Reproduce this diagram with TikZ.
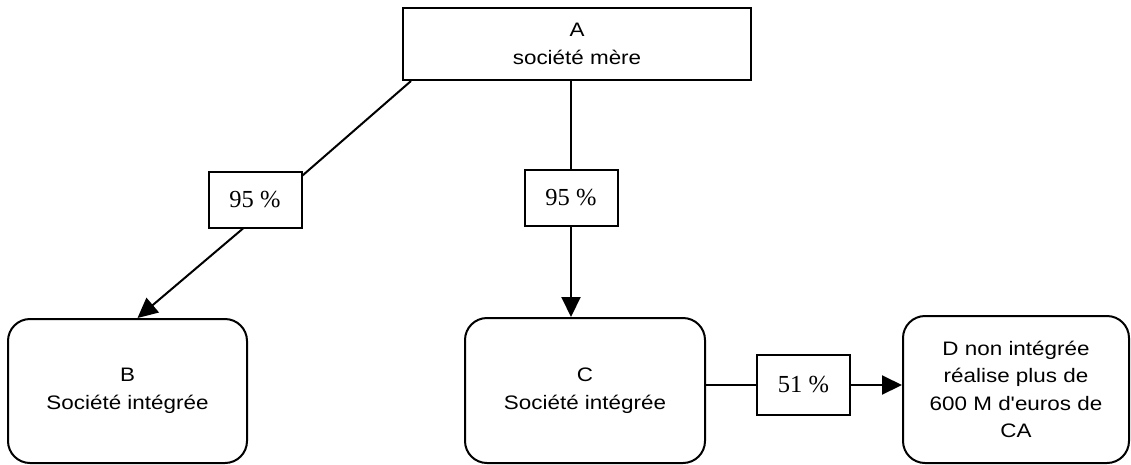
\documentclass[tikz,border=0pt]{standalone}
\usepackage{fontspec}
\setmainfont{Liberation Serif}
\newfontfamily\arialfont[FakeStretch=1.15]{Liberation Sans}
\usetikzlibrary{positioning,arrows.meta,calc}

\begin{document}
\begin{tikzpicture}[x=1pt,y=-1pt,line width=2pt,
    mainbox/.style={draw,rectangle,align=center,inner sep=0pt,
        font=\arialfont\fontsize{19.5}{27.5}\selectfont},
    roundbox/.style={mainbox,rounded corners=22pt},
    pctbox/.style={draw,rectangle,inner sep=0pt,minimum width=93pt,
        minimum height=56pt,font=\fontsize{24.5}{28}\selectfont},
    arr/.style={-{Triangle[length=20pt,width=19pt]}}]
    \useasboundingbox (0,0) rectangle (1131,464);

    % Companies
    \node[mainbox,minimum width=348pt,minimum height=72pt] (A) at (577,44) {A\\société mère};
    \node[roundbox,minimum width=239pt,minimum height=144pt] (B) at (127.5,391) {B\\Société intégrée};
    \node[roundbox,minimum width=240pt,minimum height=145pt] (C) at (585,390.5) {C\\Société intégrée};
    \node[roundbox,minimum width=226pt,minimum height=147pt] (D) at (1016,389.5)
        {D non intégrée\\réalise plus de\\600 M d'euros de\\CA};

    % Shares held
    \node[pctbox] (p1) at (255,199.5) {95 \%};
    \node[pctbox] (p2) at (571,198) {95 \%};
    \node[pctbox,minimum height=60pt] (p3) at (803.5,385) {51 \%};

    % Links
    \draw ([xshift=9pt]A.south west) -- ([yshift=-5pt]p1.north east);
    \draw[arr] ([xshift=-12pt]p1.south) -- ([xshift=10pt]B.north);
    \draw (p2.north |- A.south) -- (p2.north);
    \draw[arr] (p2.south) -- (p2.south |- C.north);
    \draw (C.east |- p3.west) -- (p3.west);
    \draw[arr] (p3.east) -- (p3.east -| D.west);
\end{tikzpicture}
\end{document}
